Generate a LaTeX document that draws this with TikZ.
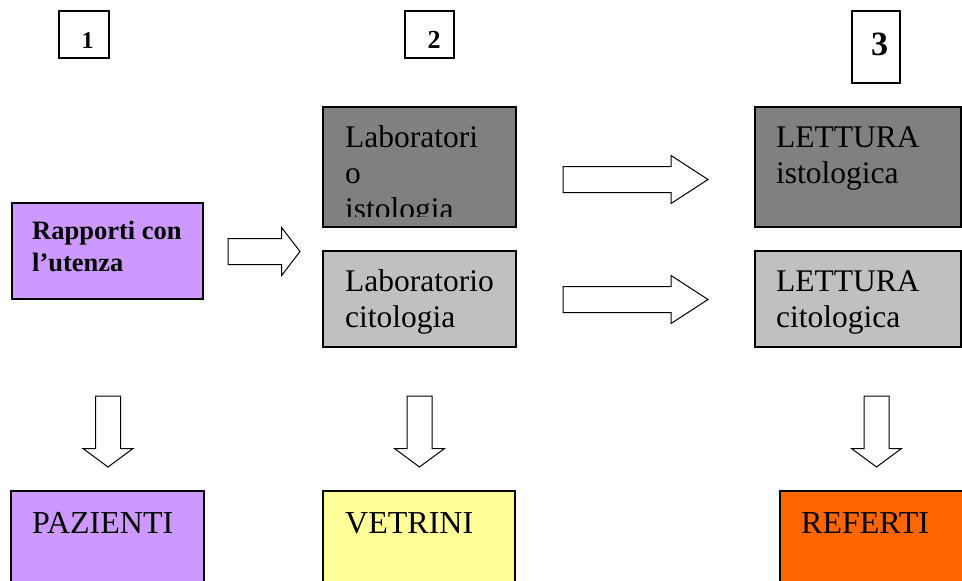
\documentclass[tikz,border=0pt]{standalone}
\usepackage{fontspec}
\setmainfont{Liberation Serif}
\usetikzlibrary{shapes.arrows}
\definecolor{lilla}{HTML}{CC99FF}
\definecolor{grigioscuro}{HTML}{808080}
\definecolor{grigiochiaro}{HTML}{C0C0C0}
\definecolor{giallino}{HTML}{FFFF99}
\definecolor{arancio}{HTML}{FF6600}
\tikzset{
    casella/.style={draw=black, line width=1.3pt, inner sep=0pt, outer sep=0pt, anchor=north west},
    numero/.style={draw=black, fill=white, line width=1.2pt, inner sep=0pt, outer sep=0pt, anchor=north west},
    cifra/.style={anchor=base, inner sep=0pt, font=\bfseries},
    testo/.style={anchor=base west, inner sep=0pt, align=left, font=\fontsize{31.5}{36}\selectfont},
    freccia/.style={single arrow, draw=black, fill=white, line width=1pt, inner xsep=0pt, inner ysep=12.5pt,
        outer sep=0pt, anchor=tail, single arrow head extend=11pt},
    freccegiu/.style={freccia, rotate=-90, minimum height=71pt, inner ysep=12pt,
        single arrow head extend=12.5pt, single arrow tip angle=107},
}

\begin{document}
\begin{tikzpicture}[x=1pt,y=-1pt]
\clip (0,0) rectangle (962,581);
%NUMERI
\node[numero, minimum width=50pt, minimum height=47pt] (num1) at (59,11) {};
	\node[cifra, font=\fontsize{24}{24}\selectfont\bfseries] (c1) at (87.5,48) {1};
\node[numero, minimum width=49pt, minimum height=47pt] (num2) at (405,11) {};
	\node[cifra, font=\fontsize{26}{26}\selectfont\bfseries] (c2) at (434,48) {2};
\node[numero, minimum width=48pt, minimum height=72pt] (num3) at (852,11) {};
	\node[cifra, font=\fontsize{34}{34}\selectfont\bfseries] (c3) at (879.5,55) {3};

%COLONNA 1
\node[casella, fill=lilla, minimum width=191pt, minimum height=96pt] (rapporti) at (12,203) {};
	\node[testo, font=\fontsize{26.5}{31.5}\selectfont\bfseries] (rapportitxt) at (32,271) {Rapporti con\\l’utenza};
\node[casella, fill=lilla, minimum width=193pt, minimum height=120pt] (pazienti) at (11,491) {};
	\node[testo, font=\fontsize{32}{36}\selectfont] (pazientitxt) at (32,533) {PAZIENTI};

%COLONNA 2
\node[casella, fill=grigioscuro, minimum width=193pt, minimum height=120pt] (labisto) at (323,107) {};
\begin{scope}
	\clip (323,107) rectangle (516,216);
	\node[testo] (labistotxt) at (345,219) {Laboratori\\o\\istologia};
\end{scope}
\node[casella, fill=grigiochiaro, minimum width=193pt, minimum height=96pt] (labcito) at (323,251) {};
	\node[testo] (labcitotxt) at (345,327) {Laboratorio\\citologia};
\node[casella, fill=giallino, minimum width=192pt, minimum height=120pt] (vetrini) at (323,491) {};
	\node[testo, font=\fontsize{32}{36}\selectfont] (vetrinitxt) at (345,533) {VETRINI};

%COLONNA 3
\node[casella, fill=grigioscuro, minimum width=206pt, minimum height=120pt] (letisto) at (755,107) {};
	\node[testo] (letistotxt) at (776,183) {LETTURA\\istologica};
\node[casella, fill=grigiochiaro, minimum width=206pt, minimum height=96pt] (letcito) at (755,251) {};
	\node[testo] (letcitotxt) at (776,327) {LETTURA\\citologica};
\node[casella, fill=arancio, minimum width=200pt, minimum height=120pt] (referti) at (780,491) {};
	\node[testo, font=\fontsize{32}{36}\selectfont] (refertitxt) at (801,533) {REFERTI};

%FRECCE
\node[freccia, minimum height=72pt, single arrow tip angle=105] (f1) at (228,251.5) {};
\node[freccia, minimum height=145pt, single arrow tip angle=66] (f2) at (563,179.5) {};
\node[freccia, minimum height=145pt, single arrow tip angle=66] (f3) at (563,299.5) {};
\node[freccegiu] (f4) at (108,396) {};
\node[freccegiu] (f5) at (419.5,396) {};
\node[freccegiu] (f6) at (876.5,396) {};
\end{tikzpicture}
\end{document}
